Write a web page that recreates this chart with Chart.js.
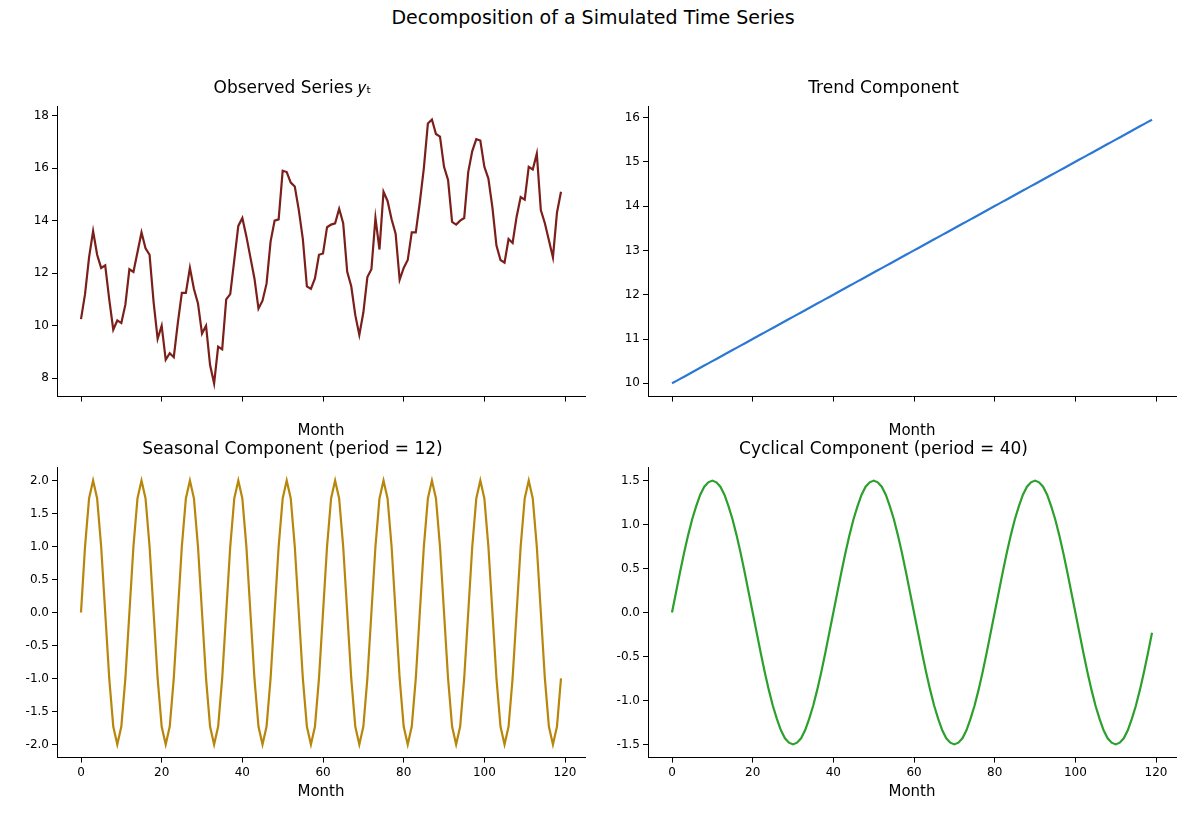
<!DOCTYPE html>
<html>
<head>
<meta charset="utf-8">
<script src="https://cdn.jsdelivr.net/npm/chart.js@4/dist/chart.umd.min.js"></script>
<style>
  body { margin: 0; width: 1186px; height: 819px; background: #fff; position: relative; font-family: "DejaVu Sans"; }
  #suptitle { position: absolute; top: 6px; left: 0; width: 1186px; text-align: center; font-size: 19px; color: #000; }
  .cell { position: absolute; width: 593px; height: 370px; }
</style>
</head>
<body>
<div id="suptitle">Decomposition of a Simulated Time Series</div>
<div class="cell" style="left:0;top:70px"><canvas id="c0"></canvas></div>
<div class="cell" style="left:591px;top:70px"><canvas id="c1"></canvas></div>
<div class="cell" style="left:0;top:431px"><canvas id="c2"></canvas></div>
<div class="cell" style="left:591px;top:431px"><canvas id="c3"></canvas></div>
<script>
// ===============================
// DATA
// ===============================

const months = Array.from({ length: 120 }, (_, i) => i);

const observed = [
    10.25, 11.2, 12.6, 13.6, 12.7, 12.2, 12.3, 11.0, 9.85, 10.2,
    10.1, 10.8, 12.15, 12.05, 12.8, 13.55, 12.95, 12.7, 10.9, 9.5,
    10.0, 8.7, 8.95, 8.8, 10.1, 11.25, 11.25, 12.2, 11.4, 10.85,
    9.7, 10.0, 8.5, 7.8, 9.2, 9.1, 11.0, 11.2, 12.5, 13.8,
    14.1, 13.4, 12.6, 11.8, 10.65, 10.95, 11.6, 13.2, 14.0, 14.05,
    15.9, 15.85, 15.45, 15.3, 14.4, 13.3, 11.5, 11.4, 11.8, 12.7,
    12.75, 13.75, 13.85, 13.9, 14.45, 13.9, 12.05, 11.5, 10.4, 9.65,
    10.5, 11.85, 12.15, 14.1, 12.9, 15.1, 14.75, 14.05, 13.5, 11.75,
    12.2, 12.5, 13.55, 13.55, 14.7, 16.0, 17.7, 17.85, 17.3, 17.2,
    16.05, 15.55, 13.95, 13.85, 14.0, 14.1, 15.85, 16.65, 17.1, 17.05,
    16.05, 15.6, 14.5, 13.05, 12.5, 12.4, 13.3, 13.15, 14.15, 14.9,
    14.8, 16.05, 15.95, 16.55, 14.4, 13.9, 13.25, 12.6, 14.3, 15.1
];

const trend = [
    10.00, 10.05, 10.10, 10.15, 10.20, 10.25, 10.30, 10.35, 10.40, 10.45,
    10.50, 10.55, 10.60, 10.65, 10.70, 10.75, 10.80, 10.85, 10.90, 10.95,
    11.00, 11.05, 11.10, 11.15, 11.20, 11.25, 11.30, 11.35, 11.40, 11.45,
    11.50, 11.55, 11.60, 11.65, 11.70, 11.75, 11.80, 11.85, 11.90, 11.95,
    12.00, 12.05, 12.10, 12.15, 12.20, 12.25, 12.30, 12.35, 12.40, 12.45,
    12.50, 12.55, 12.60, 12.65, 12.70, 12.75, 12.80, 12.85, 12.90, 12.95,
    13.00, 13.05, 13.10, 13.15, 13.20, 13.25, 13.30, 13.35, 13.40, 13.45,
    13.50, 13.55, 13.60, 13.65, 13.70, 13.75, 13.80, 13.85, 13.90, 13.95,
    14.00, 14.05, 14.10, 14.15, 14.20, 14.25, 14.30, 14.35, 14.40, 14.45,
    14.50, 14.55, 14.60, 14.65, 14.70, 14.75, 14.80, 14.85, 14.90, 14.95,
    15.00, 15.05, 15.10, 15.15, 15.20, 15.25, 15.30, 15.35, 15.40, 15.45,
    15.50, 15.55, 15.60, 15.65, 15.70, 15.75, 15.80, 15.85, 15.90, 15.95
];

const seasonal = [
    0, 1, 1.73, 2, 1.73, 1, 0, -1, -1.73, -2, -1.73, -1,
    0, 1, 1.73, 2, 1.73, 1, 0, -1, -1.73, -2, -1.73, -1,
    0, 1, 1.73, 2, 1.73, 1, 0, -1, -1.73, -2, -1.73, -1,
    0, 1, 1.73, 2, 1.73, 1, 0, -1, -1.73, -2, -1.73, -1,
    0, 1, 1.73, 2, 1.73, 1, 0, -1, -1.73, -2, -1.73, -1,
    0, 1, 1.73, 2, 1.73, 1, 0, -1, -1.73, -2, -1.73, -1,
    0, 1, 1.73, 2, 1.73, 1, 0, -1, -1.73, -2, -1.73, -1,
    0, 1, 1.73, 2, 1.73, 1, 0, -1, -1.73, -2, -1.73, -1,
    0, 1, 1.73, 2, 1.73, 1, 0, -1, -1.73, -2, -1.73, -1,
    0, 1, 1.73, 2, 1.73, 1, 0, -1, -1.73, -2, -1.73, -1
];

const cyclical = [
    0, 0.23, 0.46, 0.68, 0.88, 1.06, 1.21, 1.34, 1.43, 1.48,
    1.5, 1.48, 1.43, 1.34, 1.21, 1.06, 0.88, 0.68, 0.46, 0.23,
    0, -0.23, -0.46, -0.68, -0.88, -1.06, -1.21, -1.34, -1.43, -1.48,
    -1.5, -1.48, -1.43, -1.34, -1.21, -1.06, -0.88, -0.68, -0.46, -0.23,
    0, 0.23, 0.46, 0.68, 0.88, 1.06, 1.21, 1.34, 1.43, 1.48,
    1.5, 1.48, 1.43, 1.34, 1.21, 1.06, 0.88, 0.68, 0.46, 0.23,
    0, -0.23, -0.46, -0.68, -0.88, -1.06, -1.21, -1.34, -1.43, -1.48,
    -1.5, -1.48, -1.43, -1.34, -1.21, -1.06, -0.88, -0.68, -0.46, -0.23,
    0, 0.23, 0.46, 0.68, 0.88, 1.06, 1.21, 1.34, 1.43, 1.48,
    1.5, 1.48, 1.43, 1.34, 1.21, 1.06, 0.88, 0.68, 0.46, 0.23,
    0, -0.23, -0.46, -0.68, -0.88, -1.06, -1.21, -1.34, -1.43, -1.48,
    -1.5, -1.48, -1.43, -1.34, -1.21, -1.06, -0.88, -0.68, -0.46, -0.23
];

const xTicks = [0, 20, 40, 60, 80, 100, 120];


// ===============================
// CHART SETUP
// ===============================

Chart.defaults.font.family = "DejaVu Sans";
Chart.defaults.color = "#000";

function makeChart(id, title, values, color, yMin, yMax, yStep, showXLabels) {
    const ctx = document.getElementById(id).getContext('2d');
    return new Chart(ctx, {
        type: 'line',
        data: {
            datasets: [{
                data: months.map((m, i) => ({ x: m, y: values[i] })),
                borderColor: color,
                borderWidth: 2.2,
                pointRadius: 0,
                tension: 0
            }]
        },
        options: {
            responsive: true,
            maintainAspectRatio: false,
            animation: false,
            layout: { padding: { right: 8, top: 0 } },
            plugins: {
                legend: { display: false },
                tooltip: { enabled: false },
                title: {
                    display: true,
                    text: title,
                    font: { size: 17, weight: 'normal' },
                    padding: { top: 8, bottom: 8 }
                }
            },
            scales: {
                x: {
                    type: 'linear',
                    min: -5.95,
                    max: 124.95,
                    afterBuildTicks: s => { s.ticks = xTicks.map(v => ({ value: v })); },
                    grid: { drawOnChartArea: false, drawTicks: true, tickLength: 5, color: '#000' },
                    border: { display: true, color: '#000', width: 1 },
                    ticks: {
                        display: true,
                        font: { size: 12 },
                        padding: 3,
                        maxRotation: 0,
                        callback: v => showXLabels ? v : ''
                    },
                    title: { display: true, text: 'Month', font: { size: 15 }, padding: { top: 0, bottom: 0 } }
                },
                y: {
                    min: yMin,
                    max: yMax,
                    afterFit: s => { s.width = 57; },
                    afterBuildTicks: s => {
                        const t = [];
                        for (let v = Math.ceil(yMin / yStep) * yStep; v <= yMax + 1e-9; v += yStep) t.push({ value: +v.toFixed(2) });
                        s.ticks = t;
                    },
                    grid: { drawOnChartArea: false, drawTicks: true, tickLength: 5, color: '#000' },
                    border: { display: true, color: '#000', width: 1 },
                    ticks: {
                        font: { size: 12 },
                        padding: 3,
                        callback: v => yStep < 1 ? v.toFixed(1) : v
                    }
                }
            }
        }
    });
}

makeChart('c0', 'Observed Series \u{1D466}\u209C', observed, '#7b1f1a', 7.3, 18.35, 2, false);
makeChart('c1', 'Trend Component', trend, '#2b78d4', 9.7, 16.25, 1, false);
makeChart('c2', 'Seasonal Component (period = 12)', seasonal, '#b8860b', -2.2, 2.2, 0.5, true);
makeChart('c3', 'Cyclical Component (period = 40)', cyclical, '#2ca02c', -1.65, 1.65, 0.5, true);
</script>
</body>
</html>
